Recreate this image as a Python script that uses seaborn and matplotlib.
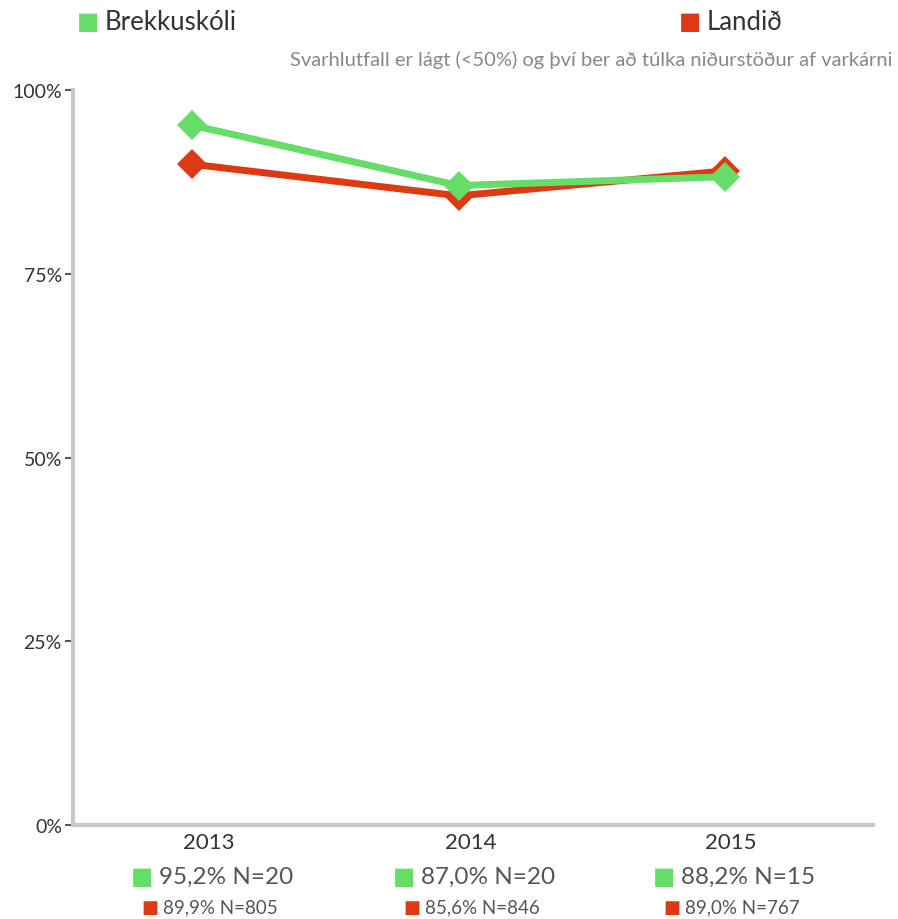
import pandas as pd
import numpy as np
import matplotlib.pyplot as plt
import seaborn as sns
from matplotlib.transforms import offset_copy

# Gögn
years = [2013, 2014, 2015]
skoli = [95.2, 87.0, 88.2]
landid = [89.9, 85.6, 89.0]
n_skoli = [20, 20, 15]
n_landid = [805, 846, 767]
groups = ['Landið', 'Brekkuskóli']

green = '#66dd66'
red = '#dd3a14'
label_shift = [17, 12, 6]  # dálkamerkin sitja aðeins hægra megin við punktana

df = pd.DataFrame({
    'ar': years * 2,
    'hlutfall': landid + skoli,
    'hopur': [groups[0]] * 3 + [groups[1]] * 3,
})

sns.set_style('white')
plt.rcParams['font.family'] = ['Lato', 'DejaVu Sans']

fig = plt.figure(figsize=(8.98, 9.2), dpi=100)
ax = fig.add_axes([73 / 898, 1 - 826 / 920, (873 - 73) / 898, (826 - 91) / 920])

sns.lineplot(data=df, x='ar', y='hlutfall', hue='hopur',
             palette={groups[0]: red, groups[1]: green},
             marker='D', markersize=15, markeredgewidth=0,
             linewidth=5, ax=ax, legend=False)

ax.set_ylim(0, 100)
ax.set_xlim(2013 - 0.447, 2015 + 0.555)
ax.set_yticks([0, 25, 50, 75, 100])
ax.set_yticklabels(['0%', '25%', '50%', '75%', '100%'], fontsize=14, color='#333333')
ax.set_xticks(years)
ax.set_xticklabels([])
ax.tick_params(axis='y', length=6, width=1.5, color='#555555', pad=2, left=True)
ax.tick_params(axis='x', length=0)
ax.set_xlabel('')
ax.set_ylabel('')
sns.despine(ax=ax)
for s in ['left', 'bottom']:
    ax.spines[s].set_color('#c8c8c8')
    ax.spines[s].set_linewidth(3)

# Ár og tölur undir ásnum
trans = ax.get_xaxis_transform()
for i, yr in enumerate(years):
    dx = label_shift[i]
    ax.annotate(str(yr), xy=(yr, 0), xycoords=trans, xytext=(dx, -17),
                textcoords='offset pixels', fontsize=16, color='#333333',
                ha='center', va='center', annotation_clip=False)
    ax.annotate('■', xy=(yr, 0), xycoords=trans, xytext=(dx - 67, -51),
                textcoords='offset pixels', fontsize=17, color=green,
                family='DejaVu Sans', ha='center', va='center', annotation_clip=False)
    ax.annotate(f'{skoli[i]:.1f}%'.replace('.', ',') + f' N={n_skoli[i]}',
                xy=(yr, 0), xycoords=trans, xytext=(dx - 50, -51),
                textcoords='offset pixels', fontsize=17.5, color='#555555',
                ha='left', va='center', annotation_clip=False)
    ax.annotate('■', xy=(yr, 0), xycoords=trans, xytext=(dx - 59, -82),
                textcoords='offset pixels', fontsize=13, color=red,
                family='DejaVu Sans', ha='center', va='center', annotation_clip=False)
    ax.annotate(f'{landid[i]:.1f}%'.replace('.', ',') + f' N={n_landid[i]}',
                xy=(yr, 0), xycoords=trans, xytext=(dx - 46, -82),
                textcoords='offset pixels', fontsize=13.5, color='#555555',
                ha='left', va='center', annotation_clip=False)

# Skýringar efst
fig.text(88 / 898, 1 - 22 / 920, '■', family='DejaVu Sans', fontsize=17,
         color=green, ha='center', va='center')
fig.text(105 / 898, 1 - 22 / 920, 'Brekkuskóli', fontsize=18.5, color='#333333',
         ha='left', va='center')
fig.text(690 / 898, 1 - 22 / 920, '■', family='DejaVu Sans', fontsize=17,
         color=red, ha='center', va='center')
fig.text(707 / 898, 1 - 22 / 920, 'Landið', fontsize=18.5, color='#333333',
         ha='left', va='center')
fig.text(893 / 898, 1 - 60 / 920,
         'Svarhlutfall er lágt (<50%) og því ber að túlka niðurstöður af varkárni',
         fontsize=14.5, color='#888888', ha='right', va='center')

fig.savefig('out.png', dpi=100)
